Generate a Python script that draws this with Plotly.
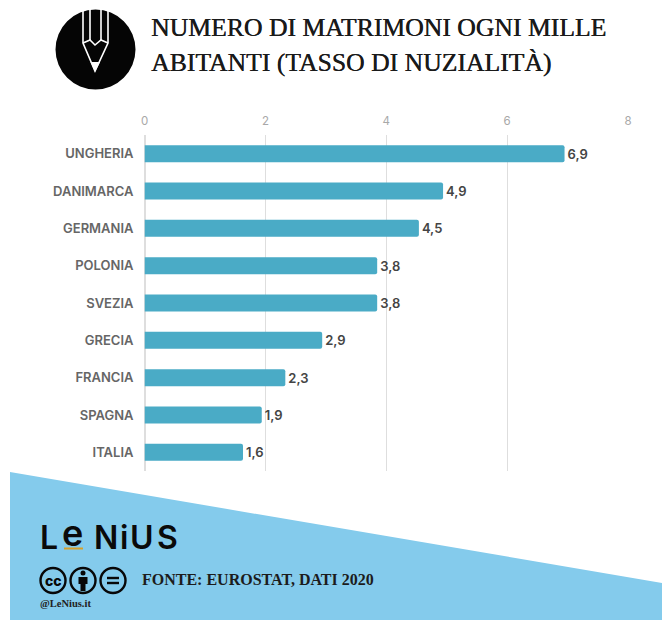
import plotly.graph_objects as go

categories = ["UNGHERIA", "DANIMARCA", "GERMANIA", "POLONIA", "SVEZIA", "GRECIA", "FRANCIA", "SPAGNA", "ITALIA"]
values = [6.95, 4.94, 4.54, 3.85, 3.85, 2.94, 2.33, 1.94, 1.63]
value_labels = ["6,9", "4,9", "4,5", "3,8", "3,8", "2,9", "2,3", "1,9", "1,6"]
tick_values = [0, 2, 4, 6, 8]
title_lines = ["NUMERO DI MATRIMONI OGNI MILLE", "ABITANTI (TASSO DI NUZIALITÀ)"]
source_text = "FONTE: EUROSTAT, DATI 2020"
handle_text = "@LeNius.it"
logo_letters = ["L", "e", "N", "i", "U", "S"]

W, H = 662, 620
def px(x): return x / W
def py(y): return 1 - y / H
def path(pts, close=False):
    s = "M " + " L ".join(f"{px(x):.5f},{py(y):.5f}" for x, y in pts)
    return s + (" Z" if close else "")

fig = go.Figure(go.Bar(
    y=categories, x=values, orientation="h",
    marker=dict(color="#4AABC6", line=dict(width=0), cornerradius=2),
    width=0.455,
    text=value_labels, textposition="outside", cliponaxis=False,
    textfont=dict(family="Inter, Open Sans, sans-serif", size=13, color="#444444", weight=600),
    hoverinfo="skip",
))

shapes = []
shapes.append(dict(type="path", xref="paper", yref="paper", layer="below",
                   path=path([(10, 472), (662, 583), (662, 620), (10, 620)], True),
                   fillcolor="#84CBEC", line_width=0))
shapes.append(dict(type="circle", xref="paper", yref="paper",
                   x0=px(55.5), x1=px(135.5), y0=py(89.5), y1=py(9.5),
                   fillcolor="#050505", line_width=0))
white = dict(color="#FFFFFF", width=1.6)
for pts in [[(83, 10), (83, 43), (95, 71), (108, 43), (108, 10)],
            [(90, 10), (90, 40)], [(101, 10), (101, 40)],
            [(83, 43), (90, 40), (95, 45), (101, 40), (108, 43)]]:
    shapes.append(dict(type="path", xref="paper", yref="paper", path=path(pts), line=white))
shapes.append(dict(type="path", xref="paper", yref="paper",
                   path=path([(90.5, 62), (100, 62), (95, 72)], True),
                   fillcolor="#FFFFFF", line_width=0))
for cx in (53, 83, 113):
    shapes.append(dict(type="circle", xref="paper", yref="paper",
                       x0=px(cx - 12.5), x1=px(cx + 12.5), y0=py(593), y1=py(568),
                       fillcolor="rgba(0,0,0,0)", line=dict(color="#080808", width=2.4)))
shapes.append(dict(type="circle", xref="paper", yref="paper",
                   x0=px(80.5), x1=px(85.5), y0=py(575.5), y1=py(570.5),
                   fillcolor="#080808", line_width=0))
shapes.append(dict(type="path", xref="paper", yref="paper",
                   path=path([(78.5, 577), (87.5, 577), (87.5, 584), (85.5, 584), (85.5, 591), (80.5, 591), (80.5, 584), (78.5, 584)], True),
                   fillcolor="#080808", line_width=0))
for y in (578, 583):
    shapes.append(dict(type="line", xref="paper", yref="paper",
                       x0=px(107), x1=px(119), y0=py(y), y1=py(y),
                       line=dict(color="#080808", width=2.4)))
shapes.append(dict(type="rect", xref="paper", yref="paper",
                   x0=px(64), x1=px(83), y0=py(549.5), y1=py(547.5),
                   fillcolor="#D8A02A", line_width=0))

ann = []
def note(text, x, y, size, family, color="#111111", weight=None, anchor="left", shadow=None):
    font = dict(family=family, size=size, color=color, weight=weight)
    if shadow:
        font["shadow"] = shadow
    ann.append(dict(text=text, xref="paper", yref="paper", x=px(x), y=py(y), xanchor=anchor, yanchor="middle",
                    showarrow=False, font=font))

serif = "Liberation Serif, serif"
thick = "0.4px 0 0 #1a1a1a"
note(title_lines[0], 148.5, 27, 25.7, serif, "#1a1a1a", shadow=thick)
note(title_lines[1], 148.5, 63, 25.7, serif, "#1a1a1a", shadow=thick)
note(source_text, 140, 579, 16, serif, "#1c1c1c", 600)
note(handle_text, 38, 603, 10.5, serif, "#222222", 700)
note("cc", 53, 580, 14, "Inter, sans-serif", "#080808", 800, "center")
for letter, x, size, y in zip(logo_letters, (38, 60, 92, 118, 128, 155),
                              (32, 36, 32, 32, 32, 32), (537, 533, 537, 537, 537, 537)):
    note(letter, x, y, size, "Inter, sans-serif", "#0a0a0a", 600)

fig.update_layout(
    width=W, height=H, margin=dict(l=0, r=0, t=0, b=0, autoexpand=False),
    paper_bgcolor="#FFFFFF", plot_bgcolor="#FFFFFF",
    showlegend=False, shapes=shapes, annotations=ann,
    xaxis=dict(domain=[px(144.5), px(628)], range=[0, 8], side="top", tickvals=tick_values,
               showgrid=True, gridcolor="#DEDEDE", gridwidth=1, zeroline=True, zerolinecolor="#DEDEDE",
               showline=False, ticks="", ticklabelstandoff=7,
               tickfont=dict(family="Inter, sans-serif", size=11.5, color="#A8A8A8"), anchor="y"),
    yaxis=dict(domain=[py(471), py(135)], autorange="reversed", showgrid=False, showline=False,
               ticks="", ticklabelstandoff=10,
               tickfont=dict(family="Inter, sans-serif", size=13, color="#666666", weight=600)),
)
fig.write_html("out.html", config={"displayModeBar": False}, post_script="document.body.style.margin='0';")
